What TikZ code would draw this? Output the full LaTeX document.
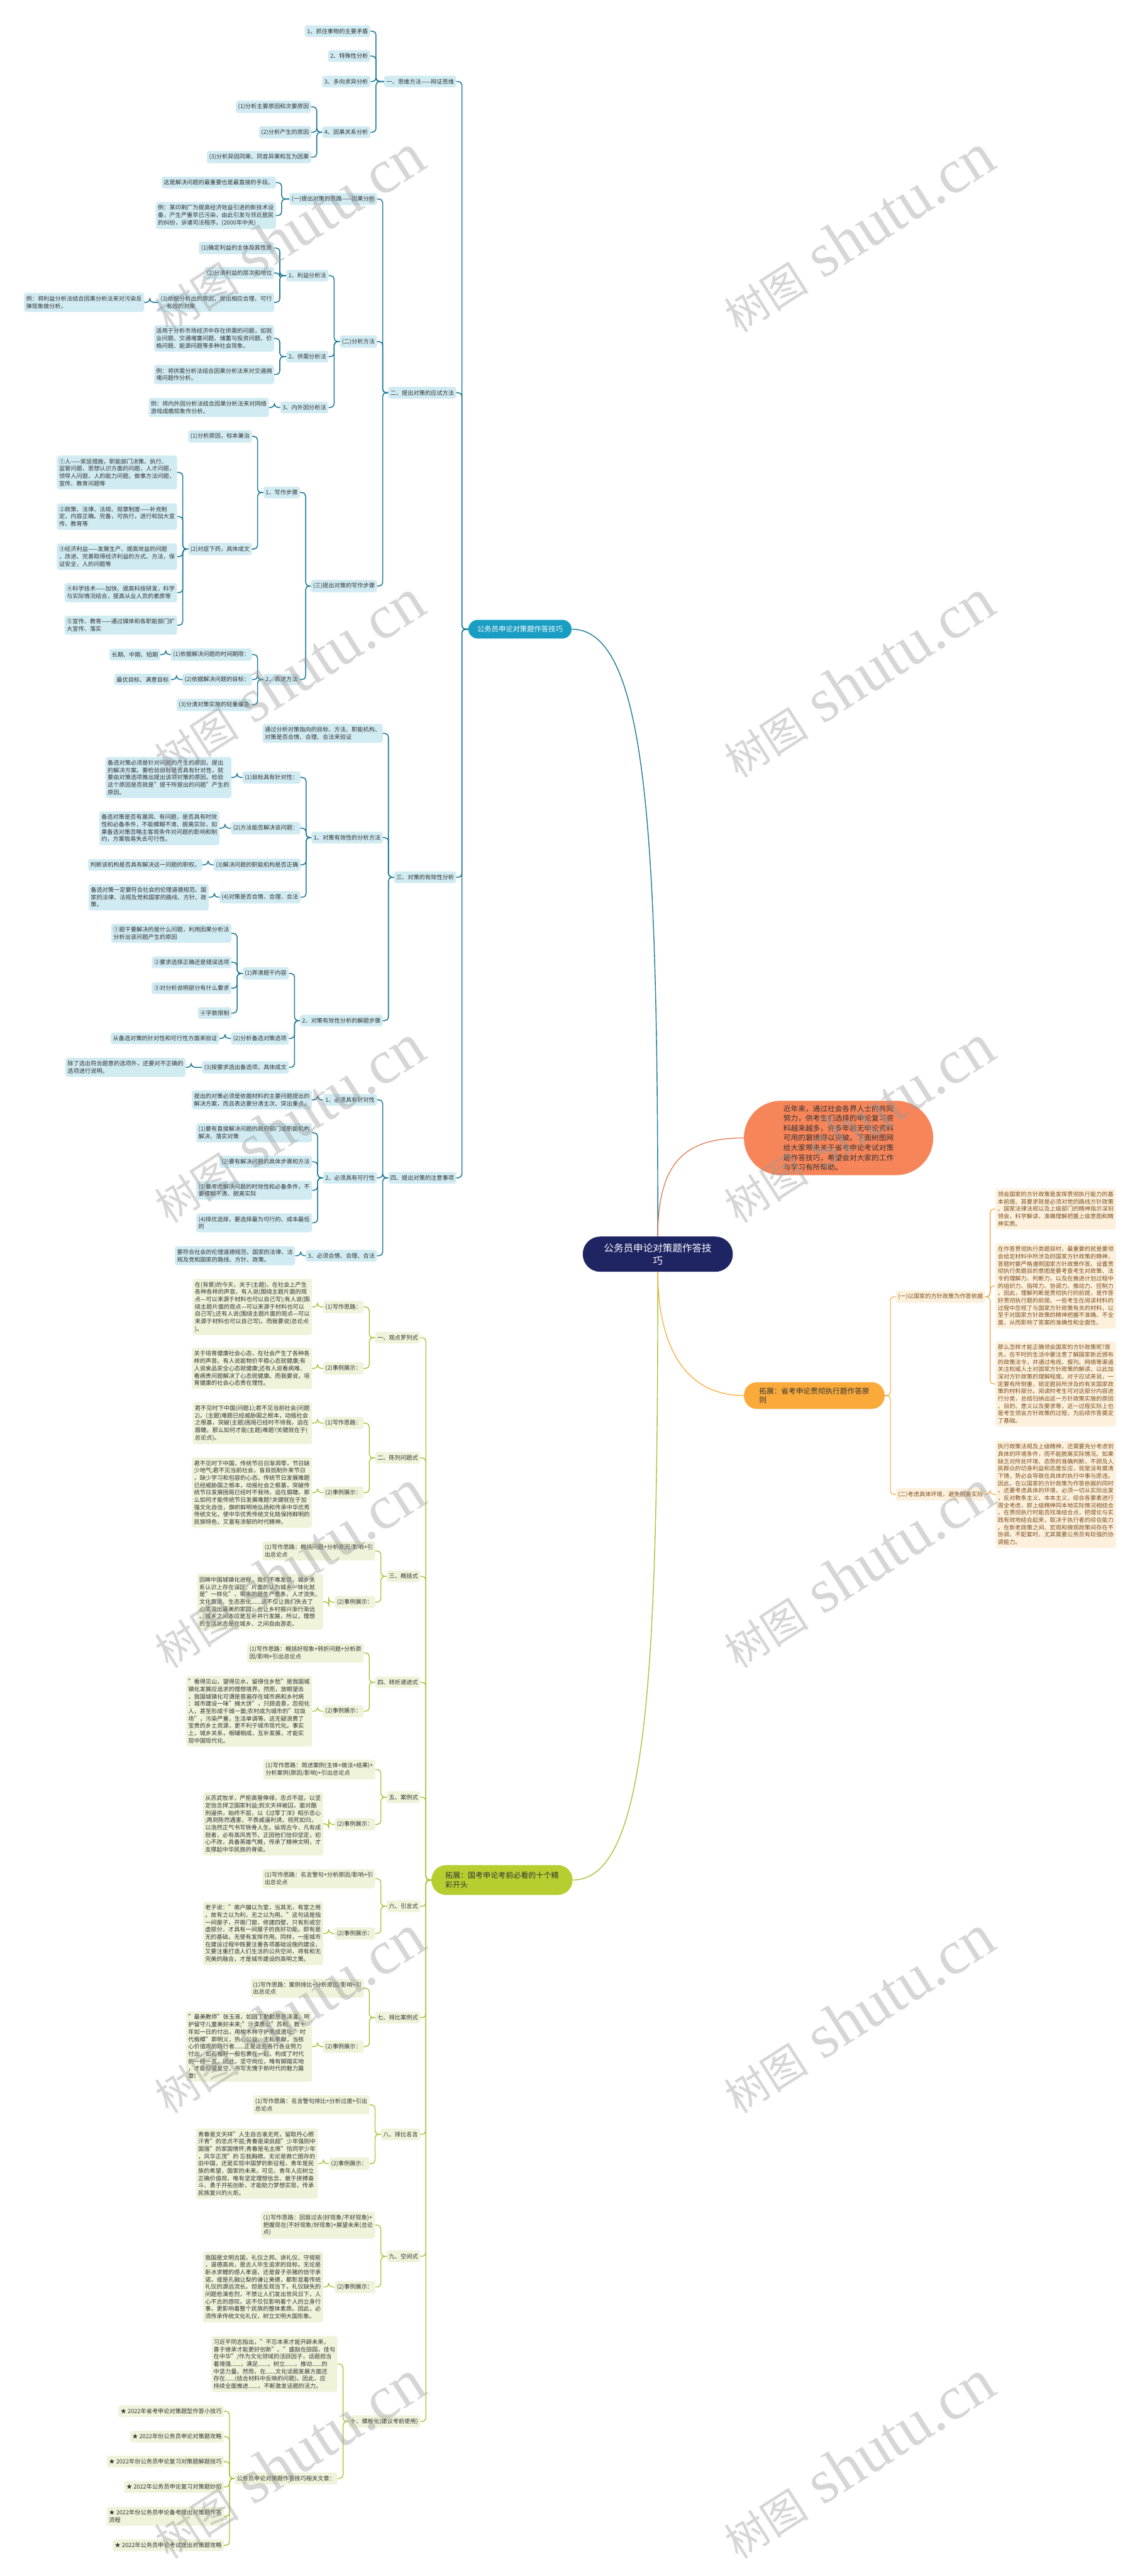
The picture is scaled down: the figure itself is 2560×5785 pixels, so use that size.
\documentclass[tikz,border=0pt]{standalone}
\usepackage{fontspec}
\setmainfont{Noto Sans CJK SC}
\newfontfamily\wmlat{Liberation Serif}
\definecolor{bfill}{HTML}{D1EBF2}
\definecolor{bline}{HTML}{1E7B97}
\definecolor{blab}{HTML}{1A9DC3}
\definecolor{gfill}{HTML}{EEF3DA}
\definecolor{gline}{HTML}{A8C43A}
\definecolor{glab}{HTML}{B8CD30}
\definecolor{ofill}{HTML}{FDF0DC}
\definecolor{oline}{HTML}{F0A438}
\definecolor{otext}{HTML}{7A5020}
\definecolor{ocoral}{HTML}{F7855A}
\definecolor{ocurve}{HTML}{E2764F}
\definecolor{oyel}{HTML}{F9AA3A}
\definecolor{cnavy}{HTML}{1F2563}
\definecolor{tx}{HTML}{333333}
\newcommand\fsn{\fontsize{13pt}{16.5pt}\selectfont}
\tikzset{
  tbox/.style={rounded corners=5pt, inner xsep=5pt, inner ysep=7pt, align=left, font=\fsn, text=tx},
  bb/.style={tbox, fill=bfill, anchor=east},
  gb/.style={tbox, fill=gfill, anchor=east},
  ob/.style={tbox, fill=ofill, anchor=west, text=otext},
  bc/.style={draw=bline, line width=2.2pt, rounded corners=8pt},
  gc/.style={draw=gline, line width=2pt, rounded corners=8pt},
  oc/.style={draw=oline, line width=1.6pt, rounded corners=8pt},
  wm/.style={rotate=32.6, text=black!40, text opacity=0.4, inner sep=0pt}
}
\begin{document}
\begin{tikzpicture}[x=1pt,y=-1pt]
\fill[white] (0,0) rectangle (2560,5785);
\useasboundingbox (0,0) rectangle (2560,5785);

% ---------------- central & main branches
\node[fill=cnavy, text=white, rounded corners=39pt, minimum width=337pt, minimum height=79pt, align=center, font=\fontsize{22pt}{28pt}\selectfont] (C) at (1477.5,2816.5) {公务员申论对策题作答技\\巧};
\node[fill=blab, text=white, rounded corners=21pt, minimum height=42pt, inner xsep=20pt, font=\fontsize{16pt}{20pt}\selectfont] (B) at (1168,1413) {公务员申论对策题作答技巧};
\node[fill=glab, text=tx, rounded corners=33pt, minimum height=67pt, minimum width=317pt, align=left, font=\fontsize{17pt}{22pt}\selectfont] (G) at (1127.5,4222) {拓展：国考申论考前必看的十个精\\彩开头};
\node[fill=ocoral, text=tx, rounded corners=83pt, minimum width=425pt, minimum height=167pt, align=left, font=\fontsize{16.5pt}{22pt}\selectfont] (O1) at (1883.5,2555.5) {近年来，通过社会各界人士的共同\\努力，供考生们选择的申论复习资\\料越来越多，许多年前无申论资料\\可用的窘境得以突破。下面树图网\\给大家带来关于省考申论考试对策\\题作答技巧，希望会对大家的工作\\与学习有所帮助。};
\node[fill=oyel, text=tx, rounded corners=29pt, minimum width=316pt, minimum height=60pt, align=left, font=\fontsize{16.5pt}{21pt}\selectfont] (O2) at (1829,3134) {拓展：省考申论贯彻执行题作答原\\则};

\draw[draw=bline, line width=2pt] (B.east) .. controls +(170,0) and +(0,-900) .. (C.north);
\draw[draw=gline, line width=2pt] (G.east) .. controls +(170,0) and +(0,900) .. (C.south);
\draw[draw=ocurve, line width=1.8pt] (C.north) .. controls +(0,-170) and +(-130,0) .. (O1.west);
\draw[draw=oyel, line width=1.8pt] (C.south) .. controls +(0,170) and +(-130,0) .. (O2.west);

% ---------------- blue tree
\node[bb] (b1) at (1025,183) {一、思维方法——辩证思维};
\node[bb] (b11) at (832,70) {1、抓住事物的主要矛盾};
\node[bb] (b12) at (832,126) {2、特殊性分析};
\node[bb] (b13) at (832,183) {3、多向求异分析};
\node[bb] (b14) at (832,297) {4、因果关系分析};
\node[bb] (b141) at (699,240) {(1)分析主要原因和次要原因};
\node[bb] (b142) at (699,297) {(2)分析产生的原因};
\node[bb] (b143) at (699,353) {(3)分析异因同果、同音异果和互为因果};

\node[bb] (b2) at (1025,882) {二、提出对策的应试方法};
\node[bb] (b21) at (847,447) {(一)提出对策的思路——因果分析};
\node[bb] (b211) at (620,410) {这是解决问题的最重要也是最直接的手段。};
\node[bb] (b212) at (620,484) {例：某印刷厂为提高经济效益引进的新技术设\\备，产生严重早已污染，由此引发与邻近居民\\的纠纷，诉诸司法程序。(2000年中央)};
\node[bb] (b22) at (847,767) {(二)分析方法};
\node[bb] (b221) at (738,619) {1、利益分析法};
\node[bb] (b2211) at (616,557) {(1)确定利益的主体及其性质};
\node[bb] (b2212) at (616,613) {(2)分清利益的层次和地位};
\node[bb] (b2213) at (616,679) {(3)依据分析出的原因，提出相应合理、可行\\、有效的对策};
\node[bb] (b22131) at (324,679) {例：将利益分析法结合因果分析法来对污染反\\弹现象做分析。};
\node[bb] (b222) at (738,801) {2、供需分析法};
\node[bb] (b2221) at (616,760) {适用于分析市场经济中存在供需的问题，如就\\业问题、交通堵塞问题、储蓄与投资问题、价\\格问题、能源问题等多种社会现象。};
\node[bb] (b2222) at (616,841) {例：将供需分析法结合因果分析法来对交通拥\\堵问题作分析。};
\node[bb] (b223) at (738,915) {3、内外因分析法};
\node[bb] (b2231) at (604,915) {例：将内外因分析法结合因果分析法来对网络\\游戏成瘾现象作分析。};
\node[bb] (b23) at (847,1316) {(三)提出对策的写作步骤};
\node[bb] (b231) at (674,1106) {1、写作步骤};
\node[bb] (b2311) at (566,980) {(1)分析原因，标本兼治};
\node[bb] (b2312) at (566,1233) {(2)对症下药，具体成文};
\node[bb] (b23121) at (398,1061) {①人——奖惩措施，职能部门决策、执行、\\监管问题，思想认识方面的问题，人才问题，\\领导人问题，人的能力问题，做事方法问题，\\宣传、教育问题等};
\node[bb] (b23122) at (398,1160) {②政策、法律、法规、规章制度——补充制\\定，内容正确、完备，可执行，进行和加大宣\\传、教育等};
\node[bb] (b23123) at (398,1250) {③经济利益——发展生产、提高效益的问题\\，改进、完善取得经济利益的方式、方法，保\\证安全，人的问题等};
\node[bb] (b23124) at (398,1331) {④科学技术——加快、提高科技研发，科学\\与实际情况结合，提高从业人员的素质等};
\node[bb] (b23125) at (398,1404) {⑤宣传、教育——通过媒体和各职能部门扩\\大宣传、落实};
\node[bb] (b232) at (674,1526) {2、表述方法};
\node[bb] (b2321) at (566,1470) {(1)依据解决问题的时间期限：};
\node[bb] (b23211) at (360,1470) {长期、中期、短期};
\node[bb] (b2322) at (566,1526) {(2)依据解决问题的目标：};
\node[bb] (b23221) at (384,1526) {最优目标、满意目标};
\node[bb] (b2323) at (566,1583) {(3)分清对策实施的轻重缓急};

\node[bb] (b3) at (1025,1970) {三、对策的有效性分析};
\node[bb] (b31) at (860,1647) {通过分析对策指向的目标、方法、职能机构、\\对策是否合情、合理、合法来验证};
\node[bb] (b32) at (860,1881) {1、对策有效性的分析方法};
\node[bb] (b321) at (675,1746) {(1)目标具有针对性：};
\node[bb] (b3211) at (520,1746) {备选对策必须是针对问题的产生的原因，提出\\的解决方案。要检验目标是否具有针对性，就\\要由对策选项推出提出该项对策的原因，检验\\这个原因是否就是"提干所提出的问题"产生的\\原因。};
\node[bb] (b322) at (675,1860) {(2)方法能否解决该问题：};
\node[bb] (b3221) at (493,1860) {备选对策是否有漏洞、有问题，是否具有时效\\性和必备条件，不能模糊不清、脱离实际，如\\果备选对策忽略主客观条件对问题的影响和制\\约，方案极易失去可行性。};
\node[bb] (b323) at (675,1942) {(3)解决问题的职能机构是否正确};
\node[bb] (b3231) at (455,1942) {判断该机构是否具有解决这一问题的职权。};
\node[bb] (b324) at (675,2015) {(4)对策是否合情、合理、合法};
\node[bb] (b3241) at (469,2015) {备选对策一定要符合社会的伦理道德规范、国\\家的法律、法规及党和国家的路线、方针、政\\策。};
\node[bb] (b33) at (860,2292) {2、对策有效性分析的解题步骤};
\node[bb] (b331) at (649,2186) {(1)弄清题干内容};
\node[bb] (b3311) at (520,2096) {①题干要解决的是什么问题，利用因果分析法\\分析出该问题产生的原因};
\node[bb] (b3312) at (520,2161) {②要求选择正确还是错误选项};
\node[bb] (b3313) at (520,2219) {③对分析说明部分有什么要求};
\node[bb] (b3314) at (520,2275) {④字数限制};
\node[bb] (b332) at (649,2332) {(2)分析备选对策选项};
\node[bb] (b3321) at (493,2332) {从备选对策的针对性和可行性方面来验证};
\node[bb] (b333) at (649,2397) {(3)按要求选出备选项，具体成文};
\node[bb] (b3331) at (417,2397) {除了选出符合题意的选项外，还要对不正确的\\选项进行说明。};

\node[bb] (b4) at (1025,2645) {四、提出对策的注意事项};
\node[bb] (b41) at (847,2470) {1、必须具有针对性};
\node[bb] (b411) at (701,2470) {提出的对策必须是依据材料的主要问题提出的\\解决方案，而且表达要分清主次、突出重点。};
\node[bb] (b42) at (847,2645) {2、必须具有可行性};
\node[bb] (b421) at (701,2544) {(1)要有直接解决问题的政府部门或职能机构\\解决、落实对策};
\node[bb] (b422) at (701,2609) {(2)要有解决问题的具体步骤和方法};
\node[bb] (b423) at (701,2673) {(3)要考虑解决问题的时效性和必备条件，不\\要模糊不清、脱离实际};
\node[bb] (b424) at (701,2746) {(4)择优选择，要选择最为可行的、成本最低\\的};
\node[bb] (b43) at (847,2820) {3、必须合情、合理、合法};
\node[bb] (b431) at (663,2820) {要符合社会的伦理道德规范、国家的法律、法\\规及党和国家的路线、方针、政策。};

\foreach \p/\c in {B/b1,B/b2,B/b3,B/b4,
  b1/b11,b1/b12,b1/b13,b1/b14,b14/b141,b14/b142,b14/b143,
  b2/b21,b2/b22,b2/b23,b21/b211,b21/b212,
  b22/b221,b22/b222,b22/b223,b221/b2211,b221/b2212,b221/b2213,b2213/b22131,
  b222/b2221,b222/b2222,b223/b2231,
  b23/b231,b23/b232,b231/b2311,b231/b2312,
  b2312/b23121,b2312/b23122,b2312/b23123,b2312/b23124,b2312/b23125,
  b232/b2321,b232/b2322,b232/b2323,b2321/b23211,b2322/b23221,
  b3/b31,b3/b32,b3/b33,b32/b321,b32/b322,b32/b323,b32/b324,
  b321/b3211,b322/b3221,b323/b3231,b324/b3241,
  b33/b331,b33/b332,b33/b333,b331/b3311,b331/b3312,b331/b3313,b331/b3314,
  b332/b3321,b333/b3331,
  b4/b41,b4/b42,b4/b43,b41/b411,b42/b421,b42/b422,b42/b423,b42/b424,b43/b431}
  \draw[bc] (\p.west) -| ([xshift=12.5pt]\c.east) -- (\c.east);

% ---------------- green tree
\node[gb] (g1) at (944,3004) {一、观点罗列式};
\node[gb] (g11) at (817,2935) {(1)写作思路：};
\node[gb] (g111) at (701,2935) {在(背景)的今天，关于(主题)，在社会上产生\\各种各样的声音。有人说(围绕主题片面的观\\点—可以来源于材料也可以自己写);有人说(围\\绕主题片面的观点—可以来源于材料也可以\\自己写);还有人说(围绕主题片面的观点—可以\\来源于材料也可以自己写)。而我要说(总论点\\)。};
\node[gb] (g12) at (817,3073) {(2)事例展示：};
\node[gb] (g121) at (701,3073) {关于培育健康社会心态，在社会产生了各种各\\样的声音。有人说能物价平稳心态就健康;有\\人说食品安全心态就健康;还有人说看病难、\\看病贵问题解决了心态就健康。而我要说，培\\育健康的社会心态贵在理性。};
\node[gb] (g2) at (944,3274) {二、陈列问题式};
\node[gb] (g21) at (817,3196) {(1)写作思路：};
\node[gb] (g211) at (701,3196) {君不见时下中国(问题1);君不见当前社会(问题\\2)。(主题)难题已经威胁国之根本，动摇社会\\之根基，突破(主题)困局已经时不待我，迫在\\眉睫。那么如何才能(主题)难题?关键就在于(\\总论点)。};
\node[gb] (g22) at (817,3352) {(2)事例展示：};
\node[gb] (g221) at (701,3352) {君不见时下中国，传统节日日渐凋零，节日缺\\少地气;君不见当前社会，盲目抵制外来节日\\，缺少学习和包容的心态。传统节日发展难题\\已经威胁国之根本，动摇社会之根基，突破传\\统节日发展困局已经时不我待，迫在眉睫。那\\么如何才能传统节日发展难题?关键就在于加\\强文化自信，旗帜鲜明地弘扬和传承中华优秀\\传统文化，使中华优秀传统文化既保持鲜明的\\民族特色，又富有浓郁的时代精神。};
\node[gb] (g3) at (944,3540) {三、概括式};
\node[gb] (g31) at (843,3483) {(1)写作思路：概括问题+分析原因/影响+引\\出总论点};
\node[gb] (g32) at (843,3598) {(2)事例展示：};
\node[gb] (g321) at (726,3597) {回眸中国城镇化进程，我们不难发现，城乡关\\系认识上存在误区：片面的认为城乡一体化就\\是"一样化"，带来的是生产萧条，人才流失、\\文化衰退、生态恶化......这不仅让我们失去了\\心底深出最美的家园，也让乡村振兴渐行渐远\\。城乡之间本应是互补并行发展，所以，理想\\的生活状态是在城乡、之间自由游走。};
\node[gb] (g4) at (944,3778) {四、转折递进式};
\node[gb] (g41) at (817,3712) {(1)写作思路：概括好现象+转折问题+分析原\\因/影响+引出总论点};
\node[gb] (g42) at (817,3843) {(2)事例展示：};
\node[gb] (g421) at (701,3843) {"看得见山，望得见水，留得住乡愁"是我国城\\镇化发展应追求的理想境界。然而，放眼望去\\，我国城镇化可谓是普遍存在城市病和乡村病\\：城市建设一味"摊大饼"，只顾造景，忽视化\\人，甚至形成千城一面;农村成为城市的"垃圾\\场"，污染严重，生活单调等。这无疑浪费了\\宝贵的乡土资源，更不利于城市现代化。事实\\上，城乡关系，相辅相成，互补发展，才能实\\现中国现代化。};
\node[gb] (g5) at (944,4036) {五、案例式};
\node[gb] (g51) at (843,3974) {(1)写作思路：简述案例(主体+做法+结果)+\\分析案例(原因/影响)+引出总论点};
\node[gb] (g52) at (843,4097) {(2)事例展示：};
\node[gb] (g521) at (726,4096) {从苏武牧羊，严拒高管俸禄，忠贞不屈，以坚\\定信念捍卫国家利益;到文天祥被囚，面对酷\\刑逼供，始终不屈，以《过零丁洋》昭示忠心\\;再到陈然遇害，不畏威逼利诱，视死如归，\\以浩然正气书写铁骨人生。纵观古今，凡有成\\就者，必有高风亮节，正因他们信仰坚定，初\\心不改，具备英雄气概，传承了精神文明，才\\支撑起中华民族的脊梁。};
\node[gb] (g6) at (944,4281) {六、引言式};
\node[gb] (g61) at (843,4219) {(1)写作思路：名言警句+分析原因/影响+引\\出总论点};
\node[gb] (g62) at (843,4342) {(2)事例展示：};
\node[gb] (g621) at (726,4342) {老子说："凿户牖以为室，当其无，有室之用\\。故有之以为利，无之以为用。"这句话是指\\一间屋子，开凿门窗，修建四壁，只有形成空\\虚部分，才具有一间屋子的良好功能。即有是\\无的基础，无使有发挥作用。同样，一座城市\\在建设过程中既要注重各项基础设施的建设，\\又要注重打造人们生活的公共空间，将有和无\\完美的融合，才是城市建设的高明之策。};
\node[gb] (g7) at (944,4531) {七、排比案例式};
\node[gb] (g71) at (817,4465) {(1)写作思路：案例排比+分析原因/影响+引\\出总论点};
\node[gb] (g72) at (817,4596) {(2)事例展示：};
\node[gb] (g721) at (701,4596) {"最美教师"张玉液，如园丁勤勤恳恳浇灌，呵\\护留守儿童美好未来;"沙漠愚公"苏和，数十\\年如一日的付出，用梭木林守护黑成遗址;"时\\代楷模"郭明义，热心公益、无私奉献，当核\\心价值观的践行者......正是这些各行各业努力\\付出，如石榴籽一般包裹在一起，构成了时代\\的一砖一瓦。因此，坚守岗位，唯有脚踏实地\\，才能仰望星空，书写无愧于新时代的魅力篇\\章!};
\node[gb] (g8) at (944,4793) {八、排比名言};
\node[gb] (g81) at (830,4727) {(1)写作思路：名言警句排比+分析过度+引出\\总论点};
\node[gb] (g82) at (830,4859) {(2)事例展示：};
\node[gb] (g821) at (714,4859) {青春是文天祥"人生自古谁无死，留取丹心照\\汗青"的忠贞不屈;青春是梁启超"少年强则中\\国强"的家国情怀;青春是毛主席"恰同学少年\\，风华正茂"的 忘我胸襟。无论是救亡图存的\\旧中国，还是实现中国梦的新征程，青年是民\\族的希望，国家的未来。可见，青年人应树立\\正确价值观，唯有坚定理想信念、敢于拼搏奋\\斗、勇于开拓创新，才能助力梦想实现，传承\\民族复兴的火炬。};
\node[gb] (g9) at (944,5067) {九、空间式};
\node[gb] (g91) at (843,4997) {(1)写作思路：回首过去(好现象/不好现象)+\\把握现在(不好现象/好现象)+展望未来(总论\\点)};
\node[gb] (g92) at (843,5136) {(2)事例展示：};
\node[gb] (g921) at (726,5136) {我国是文明古国，礼仪之邦。讲礼仪、守规矩\\，道德高尚，是古人毕生追求的目标。无论是\\卧冰求鲤的感人孝道，还是曾子杀猪的信守承\\诺，或是孔融让梨的谦让美德，都彰显着传统\\礼仪的源远流长。但是反观当下，礼仪缺失的\\问题愈演愈烈，不禁让人们发出世风日下，人\\心不古的感叹。这不仅仅影响着个人的立身行\\事，更影响着整个民族的整体素质。因此，必\\须传承传统文化礼仪，树立文明大国形象。};
\node[gb] (g10) at (944,5438) {十、模板化(建议考前使用)};
\node[gb] (g101) at (758,5309) {习近平同志指出，"不忘本来才能开辟未来，\\善于继承才能更好创新"。"盛励在田园，佳句\\在中华"/作为文化领域的活跃因子，话题担当\\着增强......，满足......，树立......，推动......的\\中坚力量。然而，在......文化话题发展方面还\\存在......(结合材料中反映的问题)。因此，应\\持续全面推进......，不断激发话题的活力。};
\node[gb] (g102) at (758,5566) {公务员申论对策题作答技巧相关文章：};
\node[gb] (s1) at (503,5415) {★ 2022年省考申论对策题型作答小技巧};
\node[gb] (s2) at (503,5472) {★ 2022年份公务员申论对策题攻略};
\node[gb] (s3) at (503,5528) {★ 2022年份公务员申论复习对策题解题技巧};
\node[gb] (s4) at (503,5585) {★ 2022年公务员申论复习对策题妙招};
\node[gb] (s5) at (503,5651) {★ 2022年份公务员申论备考提出对策题作答\\流程};
\node[gb] (s6) at (503,5716) {★ 2022年公务员申论考试提出对策题攻略};

\foreach \p/\c in {G/g1,G/g2,G/g3,G/g4,G/g5,G/g6,G/g7,G/g8,G/g9,G/g10,
  g1/g11,g1/g12,g11/g111,g12/g121,g2/g21,g2/g22,g21/g211,g22/g221,
  g3/g31,g3/g32,g32/g321,g4/g41,g4/g42,g42/g421,g5/g51,g5/g52,g52/g521,
  g6/g61,g6/g62,g62/g621,g7/g71,g7/g72,g72/g721,g8/g81,g8/g82,g82/g821,
  g9/g91,g9/g92,g92/g921,g10/g101,g10/g102,
  g102/s1,g102/s2,g102/s3,g102/s4,g102/s5,g102/s6}
  \draw[gc] (\p.west) -| ([xshift=12.5pt]\c.east) -- (\c.east);

% ---------------- orange tree
\node[ob] (o1) at (2012,2912) {(一)以国家的方针政策为作答依据};
\node[ob] (o11) at (2236,2715) {领会国家的方针政策是发挥贯彻执行能力的基\\本前提。其要求就是必须对党的路线方针政策\\、国家法律法规以及上级部门的精神指示深刻\\领会，科学解读，准确理解把握上级意图和精\\神实质。};
\node[ob] (o12) at (2236,2888) {在作答贯彻执行类题目时，最重要的就是要领\\会给定材料中所涉及的国家方针政策的精神，\\答题时要严格遵照国家方针政策作答。设置贯\\彻执行类题目的意图是要考查考生对政策、法\\令的理解力、判断力，以及在推进计划过程中\\的组织力、指挥力、协调力、推动力、控制力\\。因此，理解判断是贯彻执行的前提，是作答\\好贯彻执行题的前提。一些考生在阅读材料的\\过程中忽视了与国家方针政策有关的材料，以\\至于对国家方针政策的精神把握不准确、不全\\面，从而影响了答案的准确性和全面性。};
\node[ob] (o13) at (2236,3108) {那么怎样才能正确领会国家的方针政策呢?首\\先，在平时的生活中要注意了解国家新近颁布\\的政策法令，并通过电视、报刊、网络等渠道\\关注权威人士对国家方针政策的解读，以此加\\深对方针政策的理解程度。对于应试来说，一\\定要有所侧重，锁定题目所涉及的有关国家政\\策的材料部分。阅读时考生可对这部分内容进\\行分类，总结归纳出这一方针政策实施的原因\\、目的、意义以及要求等，这一过程实际上也\\是考生领会方针政策的过程，为后续作答奠定\\了基础。};
\node[ob] (o2) at (2012,3356) {(二)考虑具体环境，避免脱离实际};
\node[ob] (o21) at (2236,3356) {执行政策法规及上级精神，还需要充分考虑到\\具体的环境条件，而不能脱离实际情况。如果\\缺乏对所处环境、态势的准确判断，不顾及人\\民群众的切身利益和态度反应，就是没有摸清\\下情，势必会导致在具体的执行中事与愿违。\\因此，在以国家的方针政策为作答依据的同时\\，还要考虑具体的环境，必须一切从实际出发\\，反对教条主义、本本主义，综合各要素进行\\周全考虑，即上级精神同本地实际情况相结合\\。在贯彻执行时能否找准结合点，把理论与实\\践有效地结合起来，取决于执行者的综合能力\\。在新老政策之间、宏观和微观政策间存在不\\协调、不配套时，尤其需要公务员有较强的协\\调能力。};
\foreach \p/\c in {O2/o1,O2/o2,o1/o11,o1/o12,o1/o13,o2/o21}
  \draw[oc] (\p.east) -| ([xshift=-12pt]\c.west) -- (\c.west);

% ---------------- watermarks
\foreach \yy in {524,1524,2524,3524,4524,5524}{
  \node[wm] at (648,\yy) {\fontsize{95pt}{95pt}\selectfont 树图\wmlat\fontsize{140pt}{140pt}\selectfont{} shutu.cn};
  \node[wm] at (1928,\yy) {\fontsize{95pt}{95pt}\selectfont 树图\wmlat\fontsize{140pt}{140pt}\selectfont{} shutu.cn};
}
\end{tikzpicture}
\end{document}
